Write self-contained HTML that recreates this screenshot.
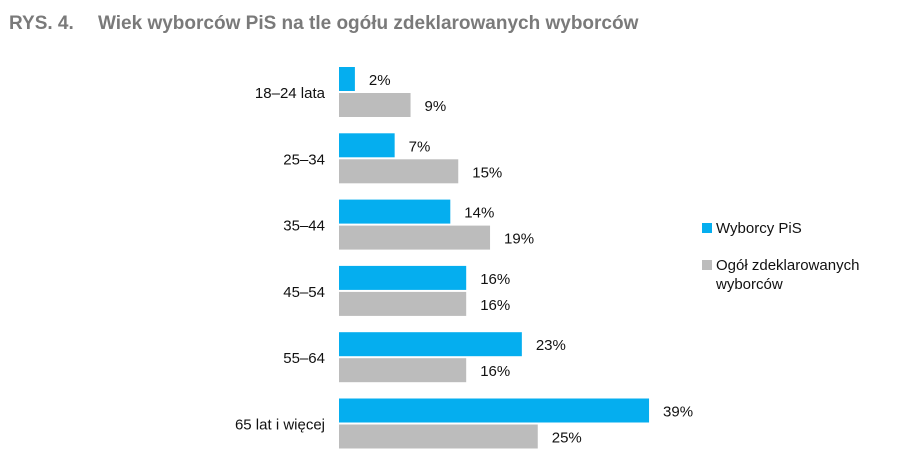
<!DOCTYPE html>
<html><head><meta charset="utf-8"><style>
body{margin:0;background:#fff;width:917px;height:469px;overflow:hidden;font-family:"Liberation Sans",sans-serif}
</style></head><body>
<svg width="917" height="469" style="font-family:'Liberation Sans',sans-serif">
<text x="9" y="29" font-size="19" font-weight="bold" fill="#7a7a7a">RYS. 4.<tspan x="98">Wiek wyborców PiS na tle ogółu zdeklarowanych wyborców</tspan></text>
<g id="bars"></g>
<g>
<rect x="702" y="223" width="10" height="10" fill="#05aeef"/>
<text x="716" y="233" font-size="15" fill="#111">Wyborcy PiS</text>
<rect x="702" y="260" width="10" height="10" fill="#bcbcbc"/>
<text x="716" y="270" font-size="15" fill="#111">Ogół zdeklarowanych<tspan x="716" dy="19">wyborców</tspan></text>
</g>
</svg>
<script>
const categories=["18–24 lata","25–34","35–44","45–54","55–64","65 lat i więcej"];
const pisValues=[2,7,14,16,23,39];
const allValues=[9,15,19,16,16,25];
const ns="http://www.w3.org/2000/svg";
const g=document.getElementById('bars');
const x0=339, pxPer=7.95, top0=67, pitch=66.3, bh=24;
function xs(v){return v*pxPer;}
function mk(tag,a){const e=document.createElementNS(ns,tag);for(const k in a)e.setAttribute(k,a[k]);g.appendChild(e);return e;}
categories.forEach((c,i)=>{
  const y=top0+i*pitch;
  const lbl=mk('text',{x:325,y:y+31,'font-size':15,fill:'#111','text-anchor':'end'});
  lbl.textContent=c;
  
  
  [[pisValues[i],'#05aeef',0,'bar-pis'],[allValues[i],'#bcbcbc',bh+2,'bar-all']].forEach(([v,col,off,nm])=>{
    const r=mk('rect',{x:x0,y:y+off,width:xs(v),height:bh,fill:col});
    
    
    const t=mk('text',{x:x0+xs(v)+14,y:y+off+18,'font-size':15,fill:'#111'});
    t.textContent=v+'%';
    
    
  });
});
</script>
</body></html>
